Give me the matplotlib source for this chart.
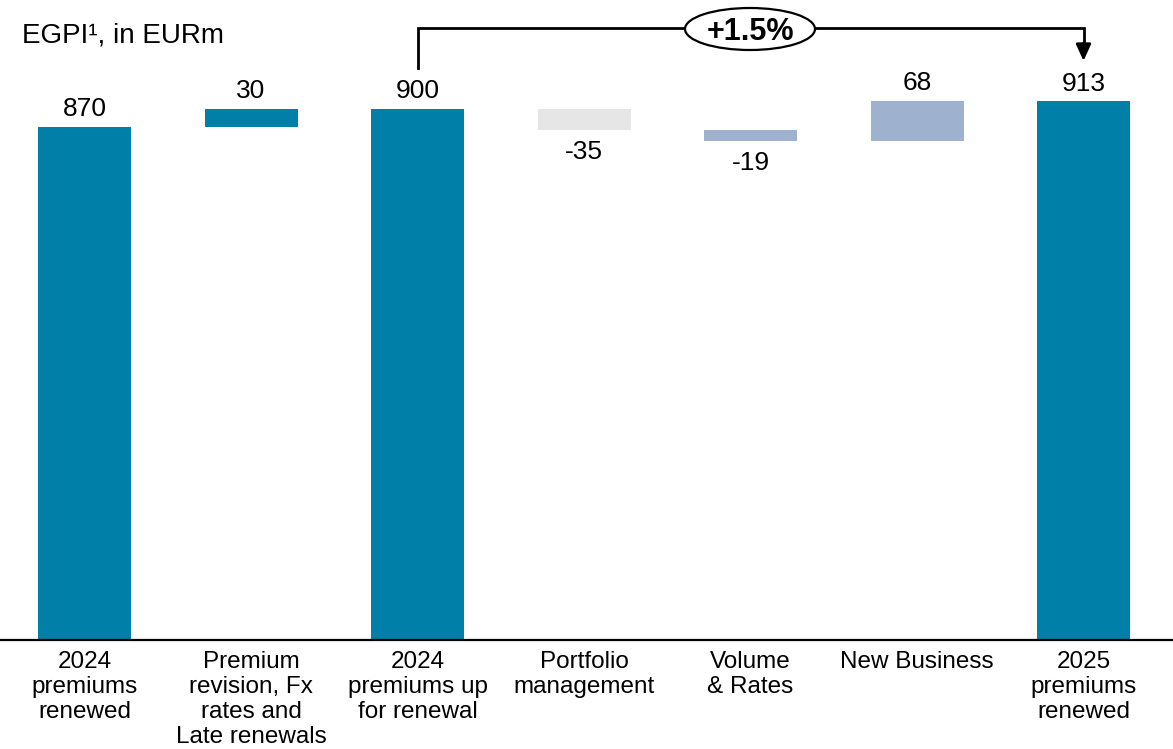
import matplotlib
matplotlib.use("Agg")
import matplotlib.pyplot as plt
from matplotlib.patches import Ellipse

plt.rcParams['font.family'] = ['Liberation Sans', 'DejaVu Sans']

categories = [
    "2024\npremiums\nrenewed",
    "Premium\nrevision, Fx\nrates and\nLate renewals",
    "2024\npremiums up\nfor renewal",
    "Portfolio\nmanagement",
    "Volume\n& Rates",
    "New Business",
    "2025\npremiums\nrenewed",
]
# Kind of each step: total bars start at zero, deltas float
kinds = ["total", "delta", "total", "delta", "delta", "delta", "total"]
values = [870, 30, 900, -35, -19, 68, 913]
labels = ["870", "30", "900", "-35", "-19", "68", "913"]
growth_label = "+1.5%"

TEAL = "#0080A8"
GREY = "#E6E6E6"
LILAC = "#9EB1CF"
colors = [TEAL, TEAL, TEAL, GREY, LILAC, LILAC, TEAL]

W, H = 1173, 749
fig = plt.figure(figsize=(W / 100, H / 100), dpi=100)
ax = fig.add_axes([0, (H - 640) / H, 1, 640 / H])

step = 166.5
x0 = 84.5
ax.set_xlim(-x0 / step, (W - x0) / step)
ax.set_ylim(0, 640 / 0.59)

# waterfall bottoms / tops
bottoms, heights = [], []
running = 0
for k, v in zip(kinds, values):
    if k == "total":
        bottoms.append(0)
        heights.append(v)
        running = v
    else:
        if v >= 0:
            bottoms.append(running)
        else:
            bottoms.append(running + v)
        heights.append(abs(v))
        running += v

xs = list(range(len(values)))
ax.bar(xs, heights, bottom=bottoms, width=93 / step, color=colors, linewidth=0)

for x, b, h, v, lab in zip(xs, bottoms, heights, values, labels):
    if v >= 0:
        ax.annotate(lab, (x, b + h), xytext=(0, 4), textcoords="offset points",
                    ha="center", va="bottom", fontsize=19)
    else:
        ax.annotate(lab, (x, b), xytext=(0, -7.5), textcoords="offset points",
                    ha="center", va="top", fontsize=19)

for s in ["top", "right", "left"]:
    ax.spines[s].set_visible(False)
ax.spines["bottom"].set_linewidth(1.6)
ax.set_yticks([])
ax.set_xticks(xs)
ax.set_xticklabels(categories, fontsize=17.5, linespacing=1.17)
ax.tick_params(axis="x", length=0, pad=8)

# growth bracket between 2024 renewal base and 2025 renewed
def fy(py):
    return (640 - py) / 0.59
bx0, bx1 = 2, 6
ax.plot([bx0, bx0, bx1, bx1], [fy(68), fy(28), fy(28), fy(45)],
        color="black", lw=2, solid_joinstyle="miter", clip_on=False)
ax.annotate("", xy=(bx1, fy(61)), xytext=(bx1, fy(43)),
            arrowprops=dict(arrowstyle="-|>,head_width=0.45,head_length=1.0",
                            color="black", lw=2, shrinkA=0, shrinkB=0),
            annotation_clip=False)
ex = (750 - x0) / step
ell = Ellipse((ex, fy(29)), width=130 / step, height=42 / 0.59,
              facecolor="white", edgecolor="black", lw=1.6, zorder=5, clip_on=False)
ax.add_patch(ell)
ax.text(ex, fy(29), growth_label, ha="center", va="center_baseline", fontsize=22,
        fontweight="bold", zorder=6)

fig.text(22 / W, 1 - 35 / H, "EGPI\u00b9, in EURm", fontsize=20, ha="left", va="center")

fig.savefig("out.png", dpi=100)
